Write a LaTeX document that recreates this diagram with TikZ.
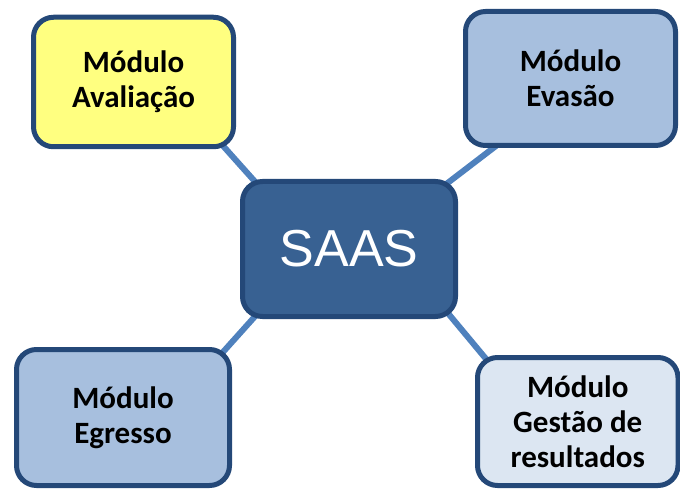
\documentclass[tikz,border=0pt]{standalone}
\usepackage{fontspec}
\setmainfont{Carlito}
\newfontfamily\saasfont{Liberation Sans}
\usetikzlibrary{backgrounds}
\definecolor{BorderClr}{RGB}{36,72,120}
\definecolor{HubClr}{RGB}{56,97,146}
\definecolor{ModClr}{RGB}{167,191,222}
\definecolor{PaleClr}{RGB}{220,230,242}
\definecolor{YellowClr}{RGB}{255,255,128}
\definecolor{LinkClr}{RGB}{79,129,189}

\tikzset{
  box/.style={draw=BorderClr,line width=5pt,rounded corners=20pt,inner sep=0pt,align=center},
  modbox/.style={box,font=\fontsize{31}{35}\selectfont\bfseries},
  hubbox/.style={box,fill=HubClr,text=white,font=\saasfont\fontsize{52}{60}\selectfont},
  link/.style={draw=LinkClr,line width=6pt,shorten <=-12pt,shorten >=-12pt}
}

\begin{document}
\begin{tikzpicture}[x=1pt,y=-1pt]
\useasboundingbox (0,0) rectangle (680,489);

\node[hubbox,minimum width=213pt,minimum height=135pt] (saas) at (349,249) {SAAS};

\node[modbox,fill=YellowClr,minimum width=200pt,minimum height=129.5pt] (aval) at (133.5,82) {Módulo\\Avaliação};
\node[modbox,fill=ModClr,minimum width=210pt,minimum height=134pt] (evas) at (570.5,78.5) {Módulo\\Evasão};
\node[modbox,fill=ModClr,minimum width=213pt,minimum height=136pt] (egr) at (123,417.5) {Módulo\\Egresso};
\node[modbox,fill=PaleClr,minimum width=200.5pt,minimum height=128pt] (gest) at (577.75,421.5) {Módulo\\Gestão de\\resultados};

\begin{scope}[on background layer]
\draw[link] (aval.-36) -- (saas.144);
\draw[link] (evas.222) -- (saas.34.5);
\draw[link] (egr.34.3) -- (saas.216);
\draw[link] (gest.145) -- (saas.-34);
\end{scope}

\end{tikzpicture}
\end{document}
